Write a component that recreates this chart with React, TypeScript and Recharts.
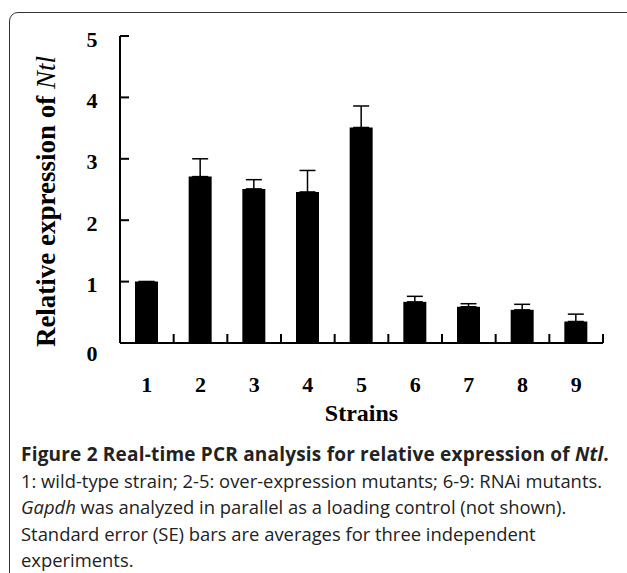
import { BarChart, Bar, XAxis, YAxis, ErrorBar, Cell } from "recharts";

const strains = ["1", "2", "3", "4", "5", "6", "7", "8", "9"];
const expression = [1.0, 2.71, 2.51, 2.46, 3.51, 0.67, 0.59, 0.54, 0.35];
const upperSE = [0, 0.29, 0.15, 0.35, 0.35, 0.09, 0.05, 0.09, 0.12];
const yTicks = [0, 1, 2, 3, 4, 5];

const chartData = strains.map((s, i) => ({
  strain: s,
  value: expression[i],
  // one-sided error bars: [below, above]
  err: [0, upperSE[i]],
}));

const serif = "'Liberation Serif', 'Times New Roman', serif";

// y ticks point into the plot
const YTick = ({ x, y, payload }: any) => (
  <g>
    <line x1={x} y1={y} x2={x + 9} y2={y} stroke="#000" strokeWidth={2} />
    <text
      x={x - 28}
      y={y + (payload.value === 0 ? 10 : 3)}
      textAnchor="middle"
      dominantBaseline="central"
      fontFamily={serif}
      fontWeight="bold"
      fontSize={22}
      fill="#000"
    >
      {payload.value}
    </text>
  </g>
);

// x ticks sit between categories, pointing up
const XTick = ({ x, y, payload }: any) => {
  const half = payload.offset || 26.8;
  return (
    <g>
      <line x1={x + half} y1={y} x2={x + half} y2={y - 9} stroke="#000" strokeWidth={2} />
      <text
        x={x}
        y={y + 49}
        textAnchor="middle"
        fontFamily={serif}
        fontWeight="bold"
        fontSize={22}
        fill="#000"
      >
        {payload.value}
      </text>
    </g>
  );
};

export default function App() {
  return (
    <div
      style={{
        position: "absolute",
        left: 0,
        top: 0,
        width: 627,
        height: 573,
        overflow: "hidden",
        background: "#fff",
      }}
    >
      <div
        style={{
          position: "absolute",
          left: 9,
          top: 12,
          width: 660,
          height: 620,
          border: "1.5px solid #333",
          borderRadius: 9,
        }}
      />
      <div style={{ position: "absolute", left: 0, top: 0 }}>
        <BarChart
          width={627}
          height={440}
          data={chartData}
          margin={{ top: 36, right: 24, left: 0, bottom: 0 }}
        >
          <XAxis
            dataKey="strain"
            height={97}
            tickSize={0}
            tickMargin={0}
            tick={<XTick />}
            axisLine={{ stroke: "#000", strokeWidth: 2 }}
            tickLine={false}
            label={{
              content: ({ viewBox }: any) => (
                <text
                  x={viewBox.x + viewBox.width / 2}
                  y={viewBox.y + 78}
                  textAnchor="middle"
                  fontFamily={serif}
                  fontWeight="bold"
                  fontSize={24}
                  fill="#000"
                >
                  Strains
                </text>
              ),
            }}
          />
          <YAxis
            width={120}
            domain={[0, 5]}
            ticks={yTicks}
            interval={0}
            tickSize={0}
            tickMargin={0}
            tick={<YTick />}
            axisLine={{ stroke: "#000", strokeWidth: 2 }}
            tickLine={false}
            label={{
              content: ({ viewBox }: any) => {
                const cx = 46;
                const cy = viewBox.y + viewBox.height / 2 + 12;
                return (
                  <text
                    x={cx}
                    y={cy}
                    transform={`rotate(-90 ${cx} ${cy})`}
                    textAnchor="middle"
                    dominantBaseline="central"
                    fontFamily={serif}
                    fontWeight="bold"
                    fontSize={27}
                    fill="#000"
                  >
                    Relative expression of{" "}
                    <tspan fontStyle="italic" fontWeight="normal">Ntl</tspan>
                  </text>
                );
              },
            }}
          />
          <Bar dataKey="value" barSize={23} fill="#000" isAnimationActive={false}>
            {chartData.map((d) => (
              <Cell key={d.strain} fill="#000" />
            ))}
            <ErrorBar dataKey="err" direction="y" width={8} stroke="#000" strokeWidth={1.5} />
          </Bar>
        </BarChart>
      </div>
      <div
        style={{
          position: "absolute",
          left: 21,
          top: 441,
          width: 620,
          fontFamily: "'Open Sans', sans-serif",
          fontSize: 18.4,
          lineHeight: "26.5px",
          color: "#222",
          whiteSpace: "nowrap",
        }}
      >
        <div style={{ fontWeight: "bold", fontSize: 19, letterSpacing: 0.2 }}>
          Figure 2 Real-time PCR analysis for relative expression of <i>Ntl</i>.
        </div>
        <div>1: wild-type strain; 2-5: over-expression mutants; 6-9: RNAi mutants.</div>
        <div>
          <i>Gapdh</i> was analyzed in parallel as a loading control (not shown).
        </div>
        <div>Standard error (SE) bars are averages for three independent</div>
        <div>experiments.</div>
      </div>
    </div>
  );
}
